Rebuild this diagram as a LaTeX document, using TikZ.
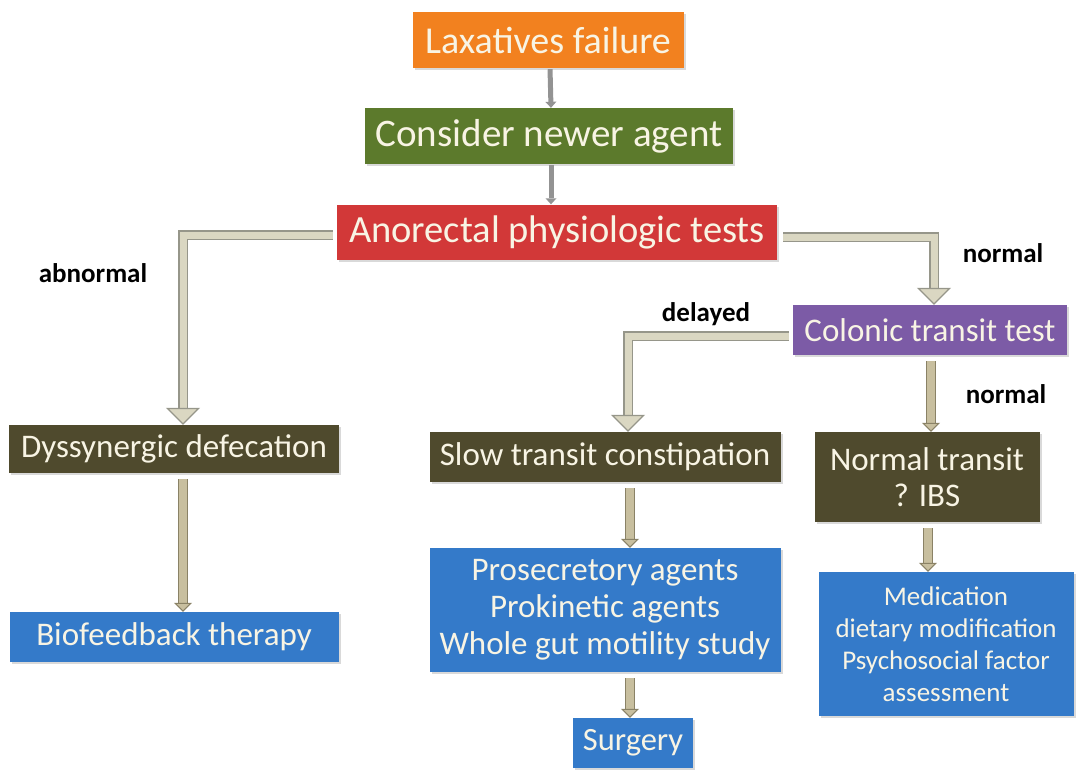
\documentclass[tikz,border=0pt]{standalone}
\usepackage{fontspec}
\setmainfont{Carlito}
\usepackage{tikz}
\usetikzlibrary{arrows.meta,shadows}
\definecolor{LaxOrange}{HTML}{F2811F}
\definecolor{AgentGreen}{HTML}{5C7A2C}
\definecolor{TestRed}{HTML}{D23838}
\definecolor{TransitPurple}{HTML}{7C5BA6}
\definecolor{DarkOlive}{HTML}{4F4A2D}
\definecolor{StepBlue}{HTML}{347AC9}
\definecolor{BoxText}{HTML}{F8F4E4}
\definecolor{ArrFill}{HTML}{DAD7C2}
\definecolor{ArrLine}{HTML}{96968A}
\definecolor{TanFill}{HTML}{C8BF9F}
\definecolor{TanLine}{HTML}{8A8266}
\newcommand{\fs}[2]{\fontsize{#1}{#2}\selectfont}

\begin{document}
\begin{tikzpicture}[x=1pt,y=-1pt,
  box/.style={rectangle,inner sep=0pt,text=BoxText,align=center,
    drop shadow={shadow xshift=2pt,shadow yshift=-2pt,opacity=.3}},
  lbl/.style={font=\fs{27}{32}\bfseries,text=black},
  toparr/.style={draw=gray!85,line width=5pt,shorten <=1pt,
    -{Triangle[width=11pt,length=6pt,line width=0pt]}},
  bigshaft/.style={draw=ArrLine,line width=1.2pt,double=ArrFill,
    double distance=7pt},
  bighead/.style={draw=ArrLine,line width=1.2pt,
    -{Triangle[width=34pt,length=17pt,fill=ArrFill,line width=1.2pt]}},
  smallshaft/.style={draw=TanLine,line width=1pt,double=TanFill,
    double distance=8pt,shorten <=6pt},
  smallhead/.style={draw=TanLine,line width=1pt,
    -{Triangle[width=18pt,length=9pt,fill=TanFill,line width=1pt]}}]
\useasboundingbox (0,0) rectangle (1078,772);

% boxes
\node[box,fill=LaxOrange,minimum width=271pt,minimum height=56pt,font=\fs{38}{44}]
  (lax) at (548,40) {Laxatives failure};
\node[box,fill=AgentGreen,minimum width=368pt,minimum height=56pt,font=\fs{39}{44}]
  (agent) at (549,136) {Consider newer agent};
\node[box,fill=TestRed,minimum width=440pt,minimum height=55pt,font=\fs{38.5}{44}]
  (anor) at (557,232) {Anorectal physiologic tests};
\node[box,fill=TransitPurple,minimum width=274pt,minimum height=50pt,font=\fs{33}{38}]
  (col) at (930,330) {Colonic transit test};
\node[box,fill=DarkOlive,minimum width=330pt,minimum height=48pt,font=\fs{33}{38}]
  (dys) at (174,449) {Dyssynergic defecation};
\node[box,fill=DarkOlive,minimum width=351pt,minimum height=50pt,font=\fs{33}{38}]
  (slow) at (605,457) {Slow transit constipation};
\node[box,fill=DarkOlive,minimum width=225pt,minimum height=90pt,font=\fs{33}{36}]
  (ntr) at (927,477) {Normal transit\\? IBS};
\node[box,fill=StepBlue,minimum width=329pt,minimum height=50pt,font=\fs{33}{38}]
  (bio) at (174,637) {Biofeedback therapy};
\node[box,fill=StepBlue,minimum width=351pt,minimum height=124pt,font=\fs{33}{37}]
  (pro) at (605,610) {Prosecretory agents\\Prokinetic agents\\Whole gut motility study};
\node[box,fill=StepBlue,minimum width=255pt,minimum height=144pt,font=\fs{27}{32}]
  (med) at (946,644) {Medication\\dietary modification\\Psychosocial factor\\assessment};
\node[box,fill=StepBlue,minimum width=120pt,minimum height=50pt,font=\fs{32.5}{38}]
  (surg) at (633,743) {Surgery};

% branch labels
\node[lbl] (abn) at (93,273) {abnormal};
\node[lbl] (nor1) at (1003,253) {normal};
\node[lbl] (del) at (706,314) {delayed};
\node[lbl] (nor2) at (1006,394) {normal};

% top arrows
\draw[toparr] ([xshift=2pt]lax.south) -- ([xshift=2pt]agent.north);
\draw[toparr] ([xshift=2pt]agent.south) -- ([xshift=-6pt]anor.north);

% elbow arrows
\draw[bigshaft] ([xshift=-4pt,yshift=-3pt]anor.west) -| ([xshift=9pt,yshift=17pt]dys.north);
\draw[bighead] ([xshift=9pt,yshift=17pt]dys.north) -- ([xshift=9pt]dys.north);
\draw[bigshaft] ([xshift=6pt,yshift=-5pt]anor.east) -| ([xshift=4pt,yshift=17pt]col.north);
\draw[bighead] ([xshift=4pt,yshift=17pt]col.north) -- ([xshift=4pt]col.north);
\draw[bigshaft] ([xshift=-4pt,yshift=-6pt]col.west) -| ([xshift=23pt,yshift=17pt]slow.north);
\draw[bighead] ([xshift=23pt,yshift=17pt]slow.north) -- ([xshift=23pt]slow.north);

% straight arrows
\draw[smallshaft] ([xshift=1pt]col.south) -- ([xshift=4pt,yshift=9pt]ntr.north);
\draw[smallhead] ([xshift=4pt,yshift=9pt]ntr.north) -- ([xshift=4pt]ntr.north);
\draw[smallshaft] ([xshift=9pt]dys.south) -- ([xshift=9pt,yshift=9pt]bio.north);
\draw[smallhead] ([xshift=9pt,yshift=9pt]bio.north) -- ([xshift=9pt]bio.north);
\draw[smallshaft] ([xshift=25pt]slow.south) -- ([xshift=25pt,yshift=9pt]pro.north);
\draw[smallhead] ([xshift=25pt,yshift=9pt]pro.north) -- ([xshift=25pt]pro.north);
\draw[smallshaft] ([xshift=1pt]ntr.south) -- ([xshift=-18pt,yshift=9pt]med.north);
\draw[smallhead] ([xshift=-18pt,yshift=9pt]med.north) -- ([xshift=-18pt]med.north);
\draw[smallshaft] ([xshift=25pt]pro.south) -- ([xshift=-3pt,yshift=9pt]surg.north);
\draw[smallhead] ([xshift=-3pt,yshift=9pt]surg.north) -- ([xshift=-3pt]surg.north);
\end{tikzpicture}
\end{document}
